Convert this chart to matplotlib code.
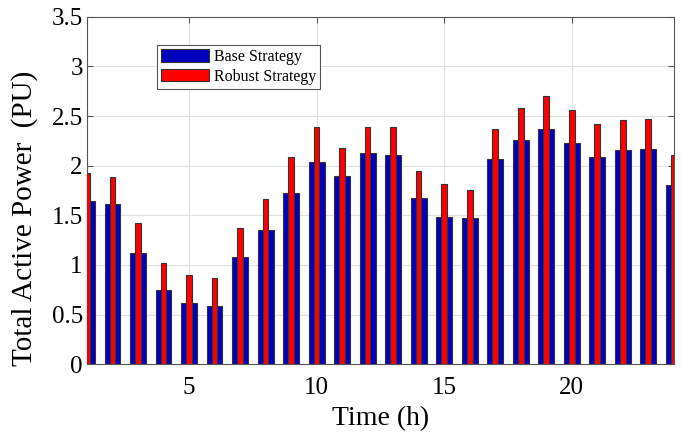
import matplotlib
matplotlib.use("Agg")
import matplotlib.pyplot as plt
import numpy as np

hours = np.arange(1, 25)
base = [1.64, 1.61, 1.12, 0.75, 0.62, 0.59, 1.08, 1.355, 1.725, 2.04, 1.90, 2.13,
        2.105, 1.675, 1.485, 1.47, 2.07, 2.26, 2.375, 2.23, 2.085, 2.16, 2.17, 1.81]
robust = [1.93, 1.89, 1.42, 1.02, 0.895, 0.87, 1.375, 1.66, 2.09, 2.39, 2.18, 2.395,
          2.395, 1.95, 1.82, 1.76, 2.37, 2.58, 2.70, 2.56, 2.425, 2.46, 2.47, 2.11]

plt.rcParams['font.family'] = ['Liberation Serif', 'DejaVu Serif']
fig = plt.figure(figsize=(6.82, 4.33), dpi=100)
ax = fig.add_axes([0.1276, 0.159, 0.8604, 0.802])

ax.bar(hours, base, width=0.62, color='#0000BE', edgecolor='#333333', linewidth=0.8,
       label='Base Strategy', zorder=2)
ax.bar(hours, robust, width=0.22, color='#FF0000', edgecolor='#333333', linewidth=0.8,
       label='Robust Strategy', zorder=3)

ax.set_xlim(1, 24)
ax.set_ylim(0, 3.5)
ax.set_xticks([5, 10, 15, 20])
ax.set_yticks(np.arange(0, 3.51, 0.5))
ax.set_yticklabels(['0', '0.5', '1', '1.5', '2', '2.5', '3', '3.5'])
ax.grid(True, color='#e0e0e0', linewidth=0.8, zorder=0)
ax.set_axisbelow(True)
ax.tick_params(direction='in', top=True, right=True, labelsize=18, length=4,
               color='#555555')
ax.tick_params(axis='x', pad=9)
ax.tick_params(axis='y', pad=3)
for s in ax.spines.values():
    s.set_color('#555555')
    s.set_linewidth(0.8)
ax.set_xlabel('Time (h)', fontsize=20, labelpad=5)
ax.set_ylabel('Total Active Power  (PU)', fontsize=21, labelpad=4)
ax.yaxis.set_label_coords(-0.083, 0.42)

leg = ax.legend(loc='upper left', bbox_to_anchor=(0.119, 0.918), fontsize=11.5,
                frameon=True, fancybox=False, edgecolor='#555555', framealpha=1,
                handlelength=3.0, handleheight=0.85, handletextpad=0.3,
                borderpad=0.25, labelspacing=0.2, borderaxespad=0)
leg.get_frame().set_linewidth(0.8)

fig.savefig('out.png', dpi=100)
